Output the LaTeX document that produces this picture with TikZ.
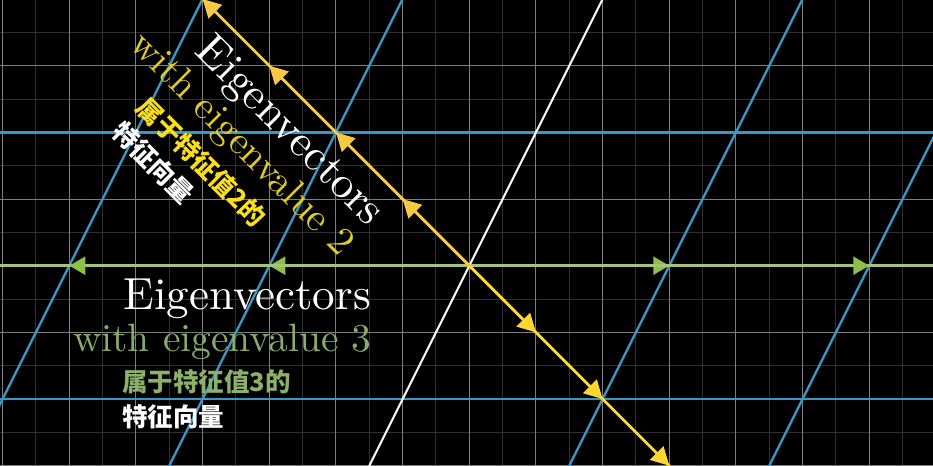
\documentclass[tikz,border=0pt]{standalone}
\usepackage{fontspec}
\setmainfont{lmroman10-regular.otf}
\newfontfamily\cjkfont{Noto Sans CJK SC}
\usetikzlibrary{arrows.meta}
\definecolor{gridbright}{RGB}{125,125,125}
\definecolor{gridfaint}{RGB}{48,48,48}
\definecolor{tblue}{RGB}{55,152,198}
\definecolor{gline}{RGB}{165,198,120}
\definecolor{ghead}{RGB}{140,192,75}
\definecolor{yup}{RGB}{246,200,68}
\definecolor{ylow}{RGB}{253,214,50}
\definecolor{gtext}{RGB}{135,172,110}
\definecolor{gcjk}{RGB}{140,175,105}
\definecolor{ytext}{RGB}{222,202,40}
\definecolor{ycjk}{RGB}{250,222,30}
\tikzset{
  faintgrid/.style={draw=gridfaint, line width=1pt, step=0.5},
  brightgrid/.style={draw=gridbright, line width=1pt, step=1},
  blueline/.style={draw=tblue, line width=2.4pt},
  whiteline/.style={draw=white, line width=2pt},
  greenline/.style={draw=gline, line width=2.4pt},
  greenvec/.style={draw=gline, line width=2.4pt, -{Triangle[length=16pt,width=18pt,color=ghead]}},
  upline/.style={draw=yup, line width=2.4pt},
  upvec/.style={draw=yup, line width=2.4pt, -{Triangle[length=18pt,width=19pt,color=yup]}},
  lowline/.style={draw=ylow, line width=2.4pt},
  lowvec/.style={draw=ylow, line width=2.4pt, -{Triangle[length=18pt,width=19pt,color=ylow]}},
  bigword/.style={text=white, inner sep=0pt, font=\fontsize{45}{50}\selectfont},
  evword/.style={inner sep=0pt, font=\fontsize{39.5}{44}\selectfont},
  cjkline/.style={inner sep=0pt, font=\cjkfont\bfseries\fontsize{25.5}{28}\selectfont},
}
\begin{document}
\begin{tikzpicture}[x=66.667pt,y=66.667pt]
\fill[black] (-7.0395,-3.0045) rectangle (6.9555,3.9855);
\useasboundingbox (-7.0395,-3.0045) rectangle (6.9555,3.9855);
\clip (-7.0395,-3.0045) rectangle (6.9555,3.9855);
% background grid
\draw[faintgrid] (-7.5,-3.5) grid (7.5,4.5);
\draw[brightgrid] (-7.5,-3.5) grid (7.5,4.5);
% transformed grid
\draw[blueline] (-7.5,2) -- (7.5,2);
\draw[blueline] (-7.5,-2) -- (7.5,-2);
\foreach \m in {-2,-1,1,2}{
  \draw[blueline] ({3*\m-1.6},-3.2) -- ({3*\m+2.1},4.2);
}
\draw[whiteline] (-1.6,-3.2) -- (2.1,4.2);
% eigen spans
\coordinate (O) at (0,0);
\coordinate (gl) at (-7.5,0);
\coordinate (gr) at (7.5,0);
\draw[greenline] (gl) -- (gr);
\coordinate (g1) at (3,0);
\coordinate (g2) at (6,0);
\coordinate (g3) at (-3,0);
\coordinate (g4) at (-6,0);
\foreach \p in {g1,g2,g3,g4}{ \draw[greenvec] (O) -- (\p); }
\coordinate (yu) at (-4.3,4.3);
\coordinate (yl) at (3.3,-3.3);
\draw[upline] (O) -- (yu);
\draw[lowline] (O) -- (yl);
\coordinate (u1) at (-1,1);
\coordinate (u2) at (-2,2);
\coordinate (u3) at (-3,3);
\coordinate (u4) at (-4,4);
\coordinate (l1) at (1,-1);
\coordinate (l2) at (2,-2);
\coordinate (l3) at (3,-3);
\foreach \p in {u1,u2,u3,u4}{ \draw[upvec] (O) -- (\p); }
\foreach \p in {l1,l2,l3}{ \draw[lowvec] (O) -- (\p); }
% lower label block (eigenvalue 3)
\node[bigword, anchor=base east] (e3) at (-98.3pt,-44.3pt) {Eigenvectors};
\node[evword, text=gtext, anchor=base east] (w3) at (-97.6pt,-86pt) {with eigenvalue 3};
\node[cjkline, text=gcjk, anchor=west] (c3a) at (-347.3pt,-116pt) {属于特征值3的};
\node[cjkline, text=white, anchor=west] (c3b) at (-347.3pt,-151pt) {特征向量};
% upper label block (eigenvalue 2), rotated along the span
\begin{scope}[rotate=-45, transform shape]
\node[bigword, anchor=base east] (e2) at (-98.3pt,-44.3pt) {Eigenvectors};
\node[evword, text=ytext, anchor=base east] (w2) at (-97.6pt,-86pt) {with eigenvalue 2};
\node[cjkline, text=ycjk, anchor=west] (c2a) at (-347.3pt,-116pt) {属于特征值2的};
\node[cjkline, text=white, anchor=west] (c2b) at (-347.3pt,-151pt) {特征向量};
\end{scope}
\end{tikzpicture}
\end{document}
